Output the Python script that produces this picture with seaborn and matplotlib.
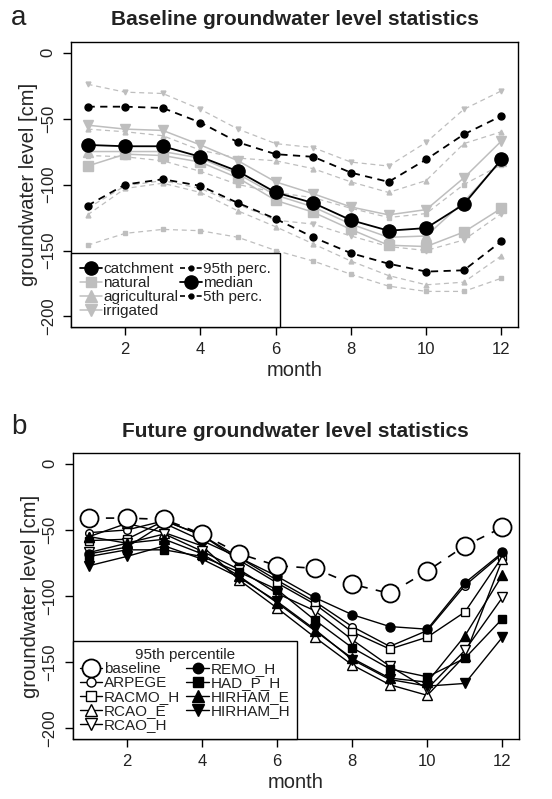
import numpy as np
import pandas as pd
import matplotlib
matplotlib.use("Agg")
import matplotlib.pyplot as plt
import seaborn as sns
from matplotlib.lines import Line2D

# ==============================
# Data
# ==============================
months = list(range(1, 13))

# panel a: catchment statistics
catch_med = [-70, -71, -71, -79, -90, -106, -114, -127, -135, -133, -115, -81]
catch_p95 = [-41, -41, -42, -53, -68, -77, -79, -91, -98, -81, -62, -48]
catch_p5 = [-116, -100, -96, -101, -114, -126, -140, -152, -160, -166, -165, -143]

# panel a: land use groups
nat_med = [-86, -77, -78, -83, -95, -112, -121, -134, -146, -147, -136, -118]
agr_med = [-75, -75, -75, -80, -92, -108, -117, -130, -140, -139, -113, -82]
irr_med = [-55, -58, -59, -70, -82, -98, -107, -117, -123, -119, -95, -67]
nat_p95 = [-78, -79, -82, -90, -100, -106, -110, -118, -125, -122, -100, -85]
agr_p95 = [-58, -60, -63, -74, -80, -82, -88, -98, -106, -97, -69, -60]
irr_p95 = [-24, -30, -31, -43, -58, -69, -72, -83, -86, -68, -43, -29]
nat_p5 = [-146, -137, -134, -135, -140, -150, -158, -168, -177, -181, -181, -171]
agr_p5 = [-123, -103, -99, -106, -120, -132, -145, -158, -169, -176, -174, -154]
irr_p5 = [-118, -101, -97, -103, -115, -127, -130, -139, -147, -150, -142, -122]

# panel b: 95th percentile, future scenarios
baseline = catch_p95
arpege = [-52, -50, -43, -54, -71, -88, -104, -123, -138, -126, -92, -68]
racmo_h = [-58, -57, -43, -54, -73, -90, -106, -127, -140, -131, -112, -70]
rcao_e = [-55, -45, -52, -62, -88, -109, -131, -152, -167, -175, -145, -72]
rcao_h = [-67, -60, -53, -66, -80, -98, -111, -133, -153, -170, -141, -101]
remo_h = [-68, -63, -45, -58, -71, -85, -101, -114, -123, -125, -90, -67]
had_p_h = [-70, -65, -65, -70, -82, -95, -118, -139, -155, -161, -147, -117]
hirham_e = [-55, -60, -57, -68, -85, -105, -126, -147, -162, -165, -130, -84]
hirham_h = [-77, -70, -62, -72, -86, -104, -125, -148, -163, -168, -166, -131]

# ==============================
# Style
# ==============================
sns.set_theme(style="ticks")
plt.rcParams['font.family'] = ['Liberation Sans', 'DejaVu Sans']
plt.rcParams['axes.linewidth'] = 1.0
plt.rcParams['xtick.major.size'] = 6
plt.rcParams['ytick.major.size'] = 6
plt.rcParams['xtick.major.width'] = 1.0
plt.rcParams['ytick.major.width'] = 1.0
plt.rcParams['xtick.color'] = 'black'
plt.rcParams['ytick.color'] = 'black'
plt.rcParams['axes.edgecolor'] = 'black'
plt.rcParams['text.color'] = '#222222'

GREY = '#bebebe'
DASH = (0, (4, 3))

fig = plt.figure(figsize=(5.52, 7.99), dpi=100)
ax1 = fig.add_axes([0.1286, 0.5907, 0.8098, 0.3567])
ax2 = fig.add_axes([0.1317, 0.0751, 0.8085, 0.3576])


def draw(ax, y, color, marker, ms, ls='-', lw=1.2, mfc=None, mew=1.0):
    sns.lineplot(x=months, y=y, ax=ax, color=color, marker=marker,
                 markersize=ms, linestyle=ls, linewidth=lw,
                 markerfacecolor=mfc if mfc is not None else color,
                 markeredgecolor=color, markeredgewidth=mew,
                 errorbar=None)


def style_axes(ax, title, letter, ylab_y):
    ax.set_xlim(0.56, 12.44)
    ax.set_ylim(-208, 8)
    ax.set_xticks([2, 4, 6, 8, 10, 12])
    ax.set_yticks([0, -50, -100, -150, -200])
    ax.set_yticklabels(['0', '\u221250', '\u2212100', '\u2212150', '\u2212200'],
                       rotation=90, va='center')
    ax.tick_params(labelsize=12, pad=5, labelcolor='#222222')
    ax.set_xlabel('month', fontsize=14.5, labelpad=3)
    ax.set_ylabel('groundwater level [cm]', fontsize=14.5, labelpad=2)
    for s in ax.spines.values():
        s.set_visible(True)
    ax.set_title(title, fontsize=15, fontweight='bold', pad=12)
    fig.text(0.02, ylab_y, letter, fontsize=20, va='center', ha='left')


# ==============================
# Panel a
# ==============================
# grey percentile lines
draw(ax1, irr_p95, GREY, 'v', 3.5, DASH, 0.9)
draw(ax1, agr_p95, GREY, '^', 3.5, DASH, 0.9)
draw(ax1, nat_p95, GREY, 's', 3.0, DASH, 0.9)
draw(ax1, irr_p5, GREY, 'v', 3.5, DASH, 0.9)
draw(ax1, agr_p5, GREY, '^', 3.5, DASH, 0.9)
draw(ax1, nat_p5, GREY, 's', 3.0, DASH, 0.9)
# grey medians
draw(ax1, nat_med, GREY, 's', 6.5, '-', 1.1)
draw(ax1, agr_med, GREY, '^', 7, '-', 1.1)
draw(ax1, irr_med, GREY, 'v', 7, '-', 1.1)
# catchment
draw(ax1, catch_p95, 'black', 'o', 5, DASH, 1.3)
draw(ax1, catch_p5, 'black', 'o', 5, DASH, 1.3)
draw(ax1, catch_med, 'black', 'o', 9.5, '-', 1.3)

style_axes(ax1, 'Baseline groundwater level statistics', 'a', 0.978)

h_a = [
    Line2D([], [], color='black', marker='o', ms=9.5, lw=1.3),
    Line2D([], [], color=GREY, marker='s', ms=7.5, lw=1.1),
    Line2D([], [], color=GREY, marker='^', ms=9, lw=1.1),
    Line2D([], [], color=GREY, marker='v', ms=9, lw=1.1),
    Line2D([], [], color='black', marker='o', ms=3.5, lw=1.2, linestyle=(0, (3, 2))),
    Line2D([], [], color='black', marker='o', ms=9.5, lw=1.3),
    Line2D([], [], color='black', marker='o', ms=3.5, lw=1.2, linestyle=(0, (3, 2))),
]
l_a = ['catchment', 'natural', 'agricultural', 'irrigated',
       '95th perc.', 'median', '5th perc.']
leg = ax1.legend(h_a, l_a, loc='lower left', ncol=2, fontsize=11,
                 borderaxespad=0, frameon=True, fancybox=False,
                 edgecolor='black', handlelength=1.4, handletextpad=0.1,
                 columnspacing=0.15, labelspacing=0.0, borderpad=0.6)
leg.get_frame().set_linewidth(1.0)
leg.get_frame().set_alpha(1)

# ==============================
# Panel b
# ==============================
futures = [
    (arpege, 'o', 'white', 5.5),
    (racmo_h, 's', 'white', 6),
    (rcao_e, '^', 'white', 7.5),
    (rcao_h, 'v', 'white', 7.5),
    (remo_h, 'o', 'black', 6.5),
    (had_p_h, 's', 'black', 6),
    (hirham_e, '^', 'black', 7.5),
    (hirham_h, 'v', 'black', 7.5),
]
for vals, mk, fc, ms in futures:
    draw(ax2, vals, 'black', mk, ms, '-', 1.0, mfc=fc)
draw(ax2, baseline, 'black', 'o', 13, (0, (5, 5)), 1.2, mfc='white', mew=1.3)

style_axes(ax2, 'Future groundwater level statistics', 'b', 0.466)

h_b = [Line2D([], [], color='black', marker='o', ms=13, lw=1.0, mfc='white', mew=1.3)]
for vals, mk, fc, ms in futures:
    h_b.append(Line2D([], [], color='black', marker=mk, ms=ms + 1, lw=1.0, mfc=fc))
l_b = ['baseline', 'ARPEGE', 'RACMO_H', 'RCAO_E', 'RCAO_H',
       'REMO_H', 'HAD_P_H', 'HIRHAM_E', 'HIRHAM_H']
leg2 = ax2.legend(h_b, l_b, loc='lower left', ncol=2, fontsize=11,
                  title='95th percentile', title_fontsize=11,
                  borderaxespad=0, frameon=True, fancybox=False,
                  edgecolor='black', handlelength=1.5, handletextpad=0.1,
                  columnspacing=0.4, labelspacing=0.0, borderpad=0.45)
leg2.get_frame().set_linewidth(1.0)
leg2.get_frame().set_alpha(1)

fig.savefig('out.png', dpi=100)
